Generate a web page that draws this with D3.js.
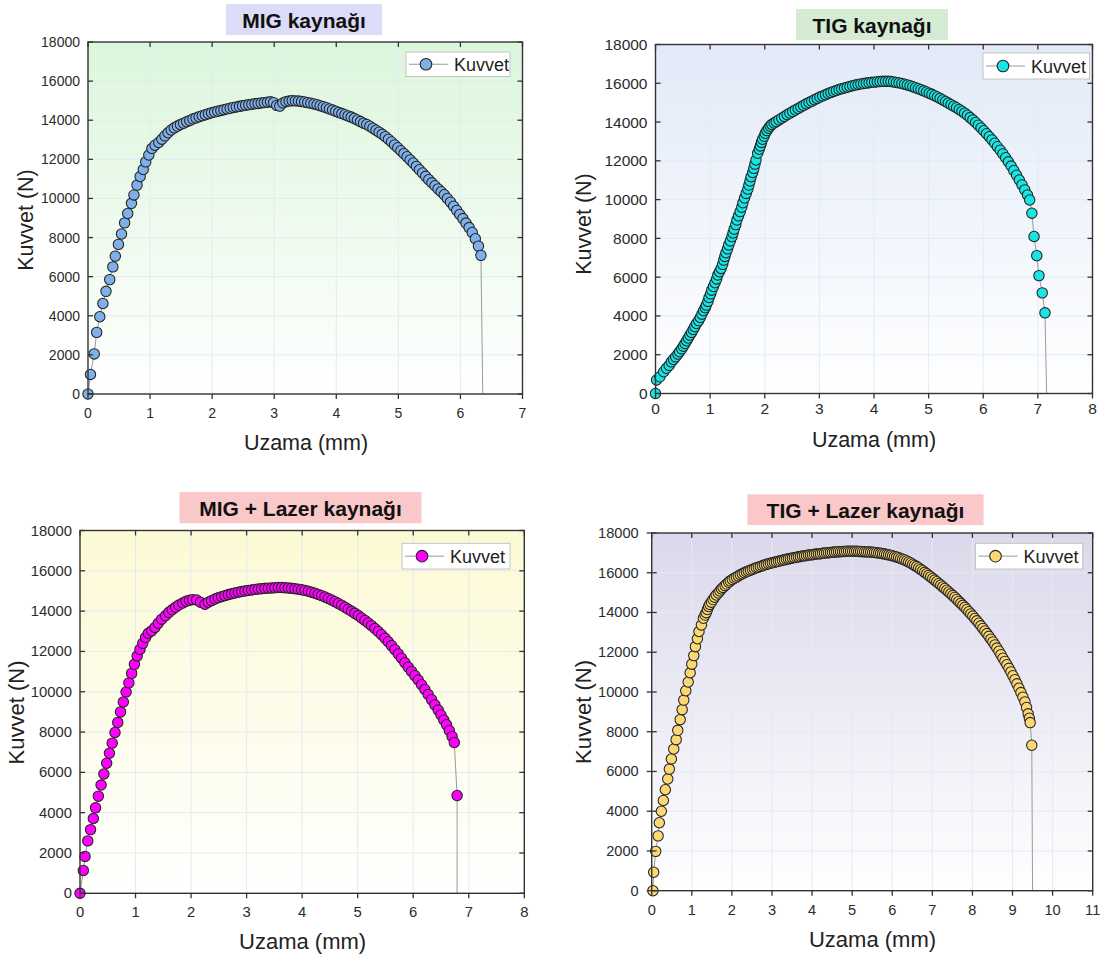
<!DOCTYPE html>
<html>
<head>
<meta charset="utf-8">
<script src="https://cdn.jsdelivr.net/npm/d3@7/dist/d3.min.js"></script>
<style>
  html, body { margin: 0; padding: 0; background: #ffffff; }
  svg { display: block; font-family: "Liberation Sans", Arial, sans-serif; }
</style>
</head>
<body>
<svg id="chart" width="1108" height="961"></svg>
<script>
// ---------- DATA ----------
const titles = ["MIG kaynağı", "TIG kaynağı", "MIG + Lazer kaynağı", "TIG + Lazer kaynağı"];
const seriesName = "Kuvvet";
const xAxisTitle = "Uzama (mm)";
const yAxisTitle = "Kuvvet (N)";
const yTicks = [0, 2000, 4000, 6000, 8000, 10000, 12000, 14000, 16000, 18000];
const xTicks7 = [0, 1, 2, 3, 4, 5, 6, 7];
const xTicks8 = [0, 1, 2, 3, 4, 5, 6, 7, 8];
const xTicks11 = [0, 1, 2, 3, 4, 5, 6, 7, 8, 9, 10, 11];

// [uzama (mm), kuvvet (N)]
const migData = [[0,0],[0.04,1000],[0.1,2050],[0.14,3150],[0.19,3950],[0.24,4630],[0.29,5250],[0.35,5850],[0.4,6500],[0.44,7050],[0.49,7650],[0.54,8180],[0.59,8750],[0.64,9230],[0.7,9750],[0.74,10180],[0.79,10680],[0.84,11120],[0.89,11480],[0.93,11870],[0.98,12220],[1.03,12560],[1.08,12720],[1.14,12860],[1.19,13030],[1.24,13200],[1.29,13360],[1.34,13500],[1.39,13610],[1.44,13700],[1.49,13780],[1.54,13850],[1.59,13920],[1.64,13990],[1.69,14060],[1.74,14120],[1.79,14180],[1.84,14230],[1.89,14280],[1.94,14330],[1.99,14380],[2.04,14420],[2.09,14460],[2.14,14500],[2.19,14540],[2.24,14580],[2.29,14610],[2.34,14650],[2.39,14680],[2.44,14710],[2.49,14740],[2.54,14770],[2.59,14790],[2.64,14820],[2.69,14840],[2.74,14860],[2.79,14880],[2.84,14900],[2.89,14920],[2.94,14940],[2.99,14900],[3.04,14760],[3.09,14720],[3.14,14880],[3.19,14950],[3.24,14980],[3.29,15000],[3.34,14990],[3.39,14980],[3.44,14960],[3.49,14930],[3.54,14900],[3.59,14870],[3.64,14830],[3.69,14790],[3.74,14740],[3.79,14690],[3.84,14640],[3.89,14580],[3.94,14520],[3.99,14460],[4.04,14400],[4.09,14340],[4.14,14280],[4.19,14220],[4.24,14160],[4.29,14090],[4.34,14010],[4.39,13930],[4.44,13850],[4.49,13780],[4.54,13690],[4.59,13590],[4.64,13490],[4.69,13390],[4.74,13280],[4.79,13160],[4.84,13030],[4.89,12890],[4.94,12740],[4.99,12590],[5.04,12440],[5.09,12290],[5.14,12130],[5.19,11970],[5.24,11810],[5.29,11640],[5.34,11470],[5.39,11300],[5.44,11130],[5.49,10960],[5.54,10800],[5.59,10650],[5.64,10490],[5.69,10340],[5.74,10190],[5.79,10000],[5.84,9810],[5.89,9600],[5.94,9390],[5.99,9180],[6.04,8970],[6.09,8740],[6.14,8510],[6.19,8260],[6.24,7940],[6.29,7560],[6.33,7090]];
const migTail = [[6.36,0]];

const tigData = [[0,0],[0.02,700],[0.08,860],[0.15,1120],[0.2,1300],[0.25,1450],[0.29,1630],[0.33,1760],[0.37,1890],[0.41,2030],[0.44,2150],[0.48,2300],[0.51,2440],[0.54,2580],[0.57,2720],[0.6,2860],[0.63,3010],[0.66,3150],[0.69,3300],[0.72,3450],[0.75,3610],[0.79,3760],[0.82,3920],[0.85,4090],[0.88,4270],[0.91,4420],[0.93,4560],[0.96,4750],[0.98,4950],[1.01,5140],[1.03,5330],[1.06,5520],[1.09,5710],[1.12,5910],[1.14,6110],[1.17,6280],[1.2,6450],[1.23,6660],[1.25,6880],[1.27,7070],[1.29,7260],[1.32,7460],[1.34,7660],[1.37,7870],[1.4,8090],[1.42,8280],[1.44,8480],[1.47,8710],[1.49,8950],[1.52,9160],[1.55,9380],[1.58,9610],[1.6,9840],[1.63,10080],[1.66,10320],[1.69,10540],[1.71,10750],[1.73,10960],[1.75,11180],[1.78,11400],[1.8,11610],[1.82,11830],[1.84,12040],[1.87,12390],[1.9,12600],[1.92,12770],[1.94,12950],[1.96,13110],[1.99,13270],[2.01,13420],[2.04,13560],[2.07,13680],[2.1,13790],[2.13,13880],[2.17,13950],[2.21,14020],[2.26,14110],[2.31,14200],[2.36,14290],[2.41,14380],[2.46,14460],[2.51,14540],[2.56,14620],[2.61,14700],[2.66,14780],[2.71,14860],[2.76,14940],[2.81,15010],[2.86,15080],[2.91,15150],[2.96,15220],[3.01,15290],[3.06,15350],[3.11,15410],[3.16,15470],[3.21,15530],[3.26,15580],[3.31,15630],[3.36,15680],[3.41,15720],[3.46,15760],[3.51,15800],[3.56,15840],[3.61,15880],[3.66,15910],[3.71,15940],[3.76,15970],[3.81,15990],[3.86,16010],[3.91,16030],[3.96,16050],[4.01,16060],[4.06,16080],[4.11,16090],[4.16,16100],[4.21,16100],[4.26,16100],[4.31,16090],[4.36,16070],[4.41,16040],[4.46,16020],[4.51,15990],[4.56,15950],[4.61,15910],[4.66,15870],[4.71,15820],[4.76,15770],[4.81,15720],[4.86,15670],[4.91,15610],[4.96,15550],[5.01,15490],[5.06,15430],[5.11,15360],[5.16,15290],[5.21,15220],[5.26,15140],[5.31,15060],[5.36,14980],[5.41,14900],[5.46,14820],[5.51,14740],[5.56,14650],[5.61,14560],[5.66,14460],[5.71,14350],[5.76,14230],[5.81,14110],[5.86,13980],[5.91,13840],[5.96,13700],[6.01,13550],[6.06,13400],[6.11,13240],[6.16,13080],[6.21,12910],[6.26,12730],[6.31,12550],[6.36,12360],[6.41,12160],[6.46,11950],[6.51,11730],[6.56,11500],[6.61,11260],[6.66,11010],[6.71,10760],[6.76,10500],[6.81,10240],[6.85,9980],[6.89,9300],[6.93,8100],[6.98,7110],[7.02,6080],[7.08,5190],[7.13,4160]];
const tigTail = [[7.16,0]];

const migLazerData = [[0,0],[0.06,1130],[0.09,1830],[0.14,2600],[0.19,3160],[0.24,3710],[0.28,4240],[0.33,4820],[0.38,5370],[0.43,5920],[0.48,6450],[0.53,6950],[0.58,7450],[0.63,7980],[0.68,8480],[0.73,9000],[0.78,9490],[0.83,9990],[0.88,10440],[0.93,10910],[0.98,11360],[1.03,11770],[1.08,12100],[1.13,12400],[1.18,12690],[1.23,12900],[1.29,13020],[1.35,13190],[1.41,13400],[1.47,13600],[1.54,13770],[1.6,13940],[1.66,14070],[1.72,14190],[1.78,14300],[1.85,14400],[1.91,14490],[1.97,14540],[2.03,14570],[2.1,14550],[2.17,14440],[2.25,14340],[2.31,14440],[2.37,14520],[2.43,14600],[2.49,14660],[2.55,14720],[2.61,14770],[2.67,14820],[2.73,14860],[2.79,14900],[2.85,14940],[2.91,14970],[2.97,15000],[3.03,15030],[3.09,15050],[3.15,15080],[3.21,15100],[3.27,15110],[3.33,15130],[3.39,15140],[3.45,15150],[3.51,15160],[3.57,15170],[3.63,15170],[3.69,15160],[3.75,15150],[3.81,15130],[3.87,15110],[3.93,15090],[3.99,15060],[4.05,15030],[4.11,14990],[4.17,14940],[4.23,14890],[4.29,14830],[4.35,14770],[4.41,14700],[4.47,14630],[4.53,14550],[4.59,14470],[4.65,14380],[4.71,14290],[4.77,14190],[4.83,14090],[4.89,13990],[4.95,13890],[5.01,13780],[5.07,13660],[5.13,13540],[5.19,13410],[5.25,13280],[5.31,13140],[5.37,12990],[5.43,12830],[5.49,12660],[5.55,12480],[5.61,12290],[5.67,12090],[5.73,11880],[5.79,11660],[5.85,11440],[5.91,11220],[5.97,11010],[6.03,10800],[6.09,10580],[6.15,10350],[6.21,10110],[6.27,9860],[6.33,9610],[6.39,9350],[6.45,9090],[6.5,8850],[6.55,8600],[6.6,8360],[6.65,8080],[6.7,7780],[6.74,7480],[6.79,4850]];
const migLazerTail = [[6.79,0]];

const tigLazerData = [[0.03,0],[0.05,930],[0.1,1980],[0.16,2760],[0.19,3420],[0.24,4000],[0.29,4540],[0.34,5080],[0.4,5620],[0.44,6120],[0.49,6630],[0.55,7130],[0.61,7600],[0.65,8070],[0.71,8610],[0.76,9110],[0.8,9590],[0.85,10060],[0.91,10500],[0.96,10970],[1,11400],[1.05,11830],[1.09,12280],[1.14,12680],[1.18,13040],[1.24,13370],[1.29,13710],[1.33,13870],[1.36,13990],[1.39,14150],[1.42,14300],[1.45,14410],[1.49,14520],[1.53,14650],[1.57,14770],[1.61,14880],[1.66,14980],[1.7,15080],[1.74,15180],[1.78,15260],[1.83,15350],[1.87,15430],[1.92,15520],[1.96,15590],[2.01,15660],[2.06,15720],[2.11,15780],[2.16,15840],[2.21,15900],[2.26,15950],[2.31,16000],[2.36,16050],[2.41,16090],[2.46,16130],[2.51,16170],[2.56,16210],[2.61,16250],[2.66,16280],[2.71,16320],[2.76,16350],[2.81,16390],[2.86,16420],[2.91,16450],[2.96,16480],[3.01,16500],[3.06,16530],[3.11,16550],[3.16,16580],[3.21,16600],[3.26,16630],[3.31,16650],[3.36,16680],[3.41,16700],[3.46,16720],[3.51,16740],[3.56,16760],[3.61,16780],[3.66,16800],[3.71,16820],[3.76,16840],[3.81,16850],[3.86,16870],[3.91,16890],[3.96,16900],[4.01,16910],[4.06,16930],[4.11,16940],[4.16,16950],[4.21,16960],[4.26,16980],[4.31,16990],[4.36,17000],[4.41,17010],[4.46,17020],[4.51,17030],[4.56,17040],[4.61,17050],[4.66,17060],[4.71,17060],[4.76,17070],[4.81,17070],[4.86,17080],[4.91,17080],[4.96,17080],[5.01,17080],[5.06,17080],[5.11,17080],[5.16,17070],[5.21,17070],[5.26,17060],[5.31,17060],[5.36,17050],[5.41,17050],[5.46,17040],[5.51,17030],[5.56,17020],[5.61,17010],[5.66,16990],[5.71,16980],[5.76,16960],[5.81,16940],[5.86,16920],[5.91,16900],[5.96,16880],[6.01,16850],[6.06,16820],[6.11,16790],[6.16,16760],[6.21,16720],[6.26,16680],[6.31,16640],[6.36,16590],[6.41,16540],[6.46,16490],[6.51,16430],[6.56,16370],[6.61,16310],[6.66,16240],[6.71,16170],[6.76,16100],[6.81,16020],[6.86,15950],[6.91,15870],[6.96,15790],[7.01,15710],[7.06,15630],[7.11,15550],[7.16,15460],[7.21,15380],[7.26,15290],[7.31,15210],[7.36,15120],[7.41,15030],[7.46,14940],[7.51,14850],[7.56,14760],[7.61,14660],[7.66,14560],[7.71,14460],[7.76,14360],[7.81,14260],[7.86,14150],[7.91,14040],[7.96,13930],[8.01,13820],[8.06,13700],[8.11,13580],[8.16,13460],[8.21,13330],[8.26,13200],[8.31,13070],[8.36,12940],[8.41,12800],[8.46,12660],[8.51,12520],[8.56,12370],[8.61,12210],[8.66,12050],[8.71,11880],[8.76,11700],[8.81,11540],[8.86,11370],[8.91,11190],[8.96,11010],[9.01,10820],[9.06,10620],[9.11,10410],[9.16,10190],[9.21,9970],[9.26,9740],[9.31,9500],[9.35,9220],[9.39,8900],[9.42,8680],[9.44,8460],[9.48,7320]];
const tigLazerTail = [[9.5,0]];

// ---------- LAYOUT / STYLE ----------
const panels = [
  { title: titles[0], data: migData, tail: migTail, xMax: 7, xTicks: xTicks7,
    plot: {l: 88, r: 522.5, t: 42, b: 394}, titleBox: {l: 226, r: 382, t: 4, b: 35},
    legend: {l: 406, r: 510, t: 52, b: 76.5},
    xTitle: {x: 306, y: 443}, yTitle: {x: 26, y: 220}, tickFont: 14, titleFont: 21.5, xLabDy: 19,
    marker: "#7fb0ea", bgTop: "#dcf6dc", boxFill: "#dcdcf8", leftOut: 0 },
  { title: titles[1], data: tigData, tail: tigTail, xMax: 8, xTicks: xTicks8,
    plot: {l: 655.5, r: 1092.5, t: 44.5, b: 393.5}, titleBox: {l: 796, r: 948, t: 9, b: 40},
    legend: {l: 983, r: 1089.5, t: 53, b: 79},
    xTitle: {x: 874, y: 440}, yTitle: {x: 584, y: 224}, tickFont: 15.5, titleFont: 21.5, xLabDy: 15,
    marker: "#18e6e6", bgTop: "#e2eaf8", boxFill: "#d5ecd3", leftOut: 0 },
  { title: titles[2], data: migLazerData, tail: migLazerTail, xMax: 8, xTicks: xTicks8,
    plot: {l: 80, r: 524.3, t: 530.5, b: 893.3}, titleBox: {l: 179.5, r: 421.5, t: 492, b: 523.3},
    legend: {l: 402, r: 510, t: 543.3, b: 569},
    xTitle: {x: 302.6, y: 941.7}, yTitle: {x: 16, y: 712.5}, tickFont: 14.8, titleFont: 22, xLabDy: 19,
    marker: "#ff00ff", bgTop: "#fcfad4", boxFill: "#fac8c8", leftOut: 0 },
  { title: titles[3], data: tigLazerData, tail: tigLazerTail, xMax: 11, xTicks: xTicks11,
    plot: {l: 651.7, r: 1092.7, t: 533, b: 890.7}, titleBox: {l: 747.5, r: 983.5, t: 494.3, b: 525},
    legend: {l: 975.5, r: 1082.7, t: 543.3, b: 569},
    xTitle: {x: 872.5, y: 939}, yTitle: {x: 583, y: 712}, tickFont: 14.6, titleFont: 22, xLabDy: 19,
    marker: "#fcd875", bgTop: "#dbd8eb", boxFill: "#fac8c8", leftOut: 5 }
];

const svg = d3.select("#chart");
const defs = svg.append("defs");

panels.forEach((p, i) => {
  const P = p.plot;
  const x = d3.scaleLinear().domain([0, p.xMax]).range([P.l, P.r]);
  const y = d3.scaleLinear().domain([0, 18000]).range([P.b, P.t]);
  const g = svg.append("g");

  // background gradient
  const gid = "bg" + i;
  const grad = defs.append("linearGradient").attr("id", gid)
    .attr("x1", 0).attr("y1", 0).attr("x2", 0).attr("y2", 1);
  grad.append("stop").attr("offset", "0%").attr("stop-color", p.bgTop);
  grad.append("stop").attr("offset", "100%").attr("stop-color", "#ffffff");
  g.append("rect").attr("x", P.l).attr("y", P.t)
    .attr("width", P.r - P.l).attr("height", P.b - P.t)
    .attr("fill", `url(#${gid})`);

  // grid
  g.append("g").selectAll("line.gx").data(p.xTicks.slice(1, -1)).join("line")
    .attr("x1", d => x(d)).attr("x2", d => x(d)).attr("y1", P.t).attr("y2", P.b)
    .attr("stroke", "#e3ebf3").attr("stroke-width", 1);
  g.append("g").selectAll("line.gy").data(yTicks.slice(1, -1)).join("line")
    .attr("y1", d => y(d)).attr("y2", d => y(d)).attr("x1", P.l).attr("x2", P.r)
    .attr("stroke", "#e3ebf3").attr("stroke-width", 1);

  // connecting line
  const line = d3.line().x(d => x(d[0])).y(d => y(d[1]));
  g.append("path").datum(p.data.concat(p.tail)).attr("d", line)
    .attr("fill", "none").attr("stroke", "#9a9a9a").attr("stroke-width", 1);

  // markers
  g.append("g").selectAll("circle").data(p.data).join("circle")
    .attr("cx", d => x(d[0])).attr("cy", d => y(d[1])).attr("r", 5.2)
    .attr("fill", p.marker).attr("stroke", "#222").attr("stroke-width", 1.05);

  // frame
  g.append("rect").attr("x", P.l).attr("y", P.t)
    .attr("width", P.r - P.l).attr("height", P.b - P.t)
    .attr("fill", "none").attr("stroke", "#333").attr("stroke-width", 1.4);

  // ticks
  const tk = 5;
  const tg = g.append("g").attr("stroke", "#333").attr("stroke-width", 1.3);
  p.xTicks.forEach(v => {
    tg.append("line").attr("x1", x(v)).attr("x2", x(v)).attr("y1", P.b).attr("y2", P.b + tk);
    tg.append("line").attr("x1", x(v)).attr("x2", x(v)).attr("y1", P.t).attr("y2", P.t + tk);
  });
  yTicks.forEach(v => {
    tg.append("line").attr("y1", y(v)).attr("y2", y(v)).attr("x1", P.l - p.leftOut).attr("x2", P.l + tk);
    tg.append("line").attr("y1", y(v)).attr("y2", y(v)).attr("x1", P.r).attr("x2", P.r - tk);
  });

  // tick labels
  g.append("g").selectAll("text").data(p.xTicks).join("text")
    .attr("x", d => x(d)).attr("y", P.b + p.xLabDy)
    .attr("text-anchor", "middle").attr("dominant-baseline", "central")
    .attr("font-size", p.tickFont).attr("fill", "#2b2b2b").text(d => d);
  g.append("g").selectAll("text").data(yTicks).join("text")
    .attr("x", P.l - 8 - p.leftOut).attr("y", d => y(d))
    .attr("text-anchor", "end").attr("dominant-baseline", "central")
    .attr("font-size", p.tickFont).attr("fill", "#2b2b2b").text(d => d);

  // axis titles
  g.append("text").attr("x", p.xTitle.x).attr("y", p.xTitle.y)
    .attr("text-anchor", "middle").attr("dominant-baseline", "central")
    .attr("font-size", p.titleFont).attr("fill", "#222").text(xAxisTitle);
  g.append("text").attr("transform", `translate(${p.yTitle.x},${p.yTitle.y}) rotate(-90)`)
    .attr("text-anchor", "middle").attr("dominant-baseline", "central")
    .attr("font-size", p.titleFont).attr("fill", "#222").text(yAxisTitle);

  // title box
  const T = p.titleBox;
  g.append("rect").attr("x", T.l).attr("y", T.t).attr("width", T.r - T.l).attr("height", T.b - T.t)
    .attr("fill", p.boxFill);
  g.append("text").attr("x", (T.l + T.r) / 2).attr("y", (T.t + T.b) / 2 + 1)
    .attr("text-anchor", "middle").attr("dominant-baseline", "central")
    .attr("font-size", 21).attr("font-weight", "bold").attr("fill", "#111").text(p.title);

  // legend
  const L = p.legend;
  const lg = g.append("g");
  lg.append("rect").attr("x", L.l).attr("y", L.t).attr("width", L.r - L.l).attr("height", L.b - L.t)
    .attr("fill", "#ffffff").attr("stroke", "#c4c4c4").attr("stroke-width", 1);
  const cy = (L.t + L.b) / 2;
  lg.append("line").attr("x1", L.l + 3).attr("x2", L.l + 42).attr("y1", cy).attr("y2", cy)
    .attr("stroke", "#9a9a9a").attr("stroke-width", 1);
  lg.append("circle").attr("cx", L.l + 20).attr("cy", cy).attr("r", 5.8)
    .attr("fill", p.marker).attr("stroke", "#222").attr("stroke-width", 1.05);
  lg.append("text").attr("x", L.l + 48).attr("y", cy + 0.5)
    .attr("dominant-baseline", "central").attr("font-size", 18).attr("fill", "#222").text(seriesName);
});
</script>
</body>
</html>
